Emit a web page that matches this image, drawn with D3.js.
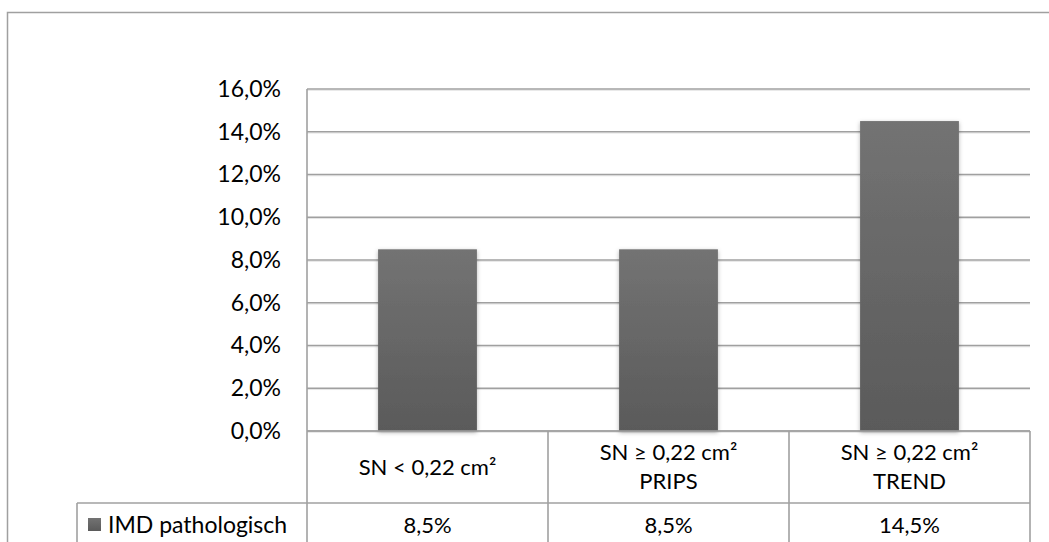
<!DOCTYPE html>
<html>
<head>
<meta charset="utf-8">
<script src="https://cdn.jsdelivr.net/npm/d3@7"></script>
<style>
  html, body { margin: 0; padding: 0; background: #fff; }
  svg { display: block; font-family: Lato, "Open Sans", sans-serif; }
</style>
</head>
<body>
<svg id="chart" width="1049" height="542"></svg>
<script>
// Share of pathological IMD per SN group
const categories = [["SN < 0,22 cm²"], ["SN ≥ 0,22 cm²", "PRIPS"], ["SN ≥ 0,22 cm²", "TREND"]];
const values = [8.5, 8.5, 14.5];
const valueLabels = ["8,5%", "8,5%", "14,5%"];
const yTicks = [0, 2, 4, 6, 8, 10, 12, 14, 16];
const seriesName = "IMD pathologisch";

const svg = d3.select("#chart");
const W = 1049, H = 542;
const plot = { left: 307, right: 1030, top: 89, bottom: 431 };
const tableRow = 503;
const legendLeft = 77;
const lineColor = "#a0a0a0";

const defs = svg.append("defs");
const grad = defs.append("linearGradient").attr("id", "barGrad")
  .attr("x1", 0).attr("y1", 0).attr("x2", 0).attr("y2", 1);
grad.append("stop").attr("offset", "0%").attr("stop-color", "#737373");
grad.append("stop").attr("offset", "100%").attr("stop-color", "#5a5a5a");

const shadow = defs.append("filter").attr("id", "barShadow")
  .attr("x", "-20%").attr("y", "-5%").attr("width", "140%").attr("height", "115%");
shadow.append("feDropShadow").attr("dx", 0).attr("dy", 1.5)
  .attr("stdDeviation", 2.2).attr("flood-color", "#000").attr("flood-opacity", 0.3);

// Outer chart frame
svg.append("path")
  .attr("d", `M${W + 2},12.5 H7.5 V${H + 2}`)
  .attr("fill", "none").attr("stroke", lineColor).attr("stroke-width", 1.5);

const x = d3.scaleBand()
  .domain(d3.range(categories.length))
  .range([plot.left, plot.right])
  .paddingInner(0.59).paddingOuter(0.295);

const xCol = d3.scaleBand()
  .domain(d3.range(categories.length))
  .range([plot.left, plot.right]);

const y = d3.scaleLinear().domain([0, 16]).range([plot.bottom, plot.top]);

// Gridlines with a faint line underneath as shadow
const grid = svg.append("g");
grid.selectAll("line.shade").data(yTicks).join("line").attr("class", "shade")
  .attr("x1", plot.left).attr("x2", plot.right)
  .attr("y1", d => y(d) + 1.3).attr("y2", d => y(d) + 1.3)
  .attr("stroke", "#e4e4e4").attr("stroke-width", 1);
grid.selectAll("line.main").data(yTicks).join("line").attr("class", "main")
  .attr("x1", plot.left).attr("x2", plot.right)
  .attr("y1", d => y(d)).attr("y2", d => y(d))
  .attr("stroke", lineColor).attr("stroke-width", 1.6);

// Y axis labels
const yAxis = d3.axisLeft(y).tickValues(yTicks).tickSize(0).tickPadding(26)
  .tickFormat(d => d3.format(".1f")(d).replace(".", ",") + "%");
const gy = svg.append("g").attr("transform", `translate(${plot.left},0)`).call(yAxis);
gy.select(".domain").remove();
gy.selectAll("text").attr("font-size", 23).attr("fill", "#000")
  .attr("font-family", "Lato, 'Open Sans', sans-serif");

// Bars
svg.append("g").selectAll("rect").data(values).join("rect")
  .attr("x", (d, i) => x(i)).attr("width", x.bandwidth())
  .attr("y", d => y(d)).attr("height", d => y(0) - y(d))
  .attr("fill", "url(#barGrad)").attr("filter", "url(#barShadow)");

// Baseline redrawn over bars
svg.append("line")
  .attr("x1", plot.left).attr("x2", plot.right)
  .attr("y1", y(0)).attr("y2", y(0))
  .attr("stroke", lineColor).attr("stroke-width", 1.6);

// Data table lines
const tl = svg.append("g").attr("stroke", lineColor).attr("stroke-width", 1.6).attr("fill", "none");
tl.append("line").attr("x1", plot.left).attr("x2", plot.left).attr("y1", plot.top).attr("y2", H + 2);
tl.append("line").attr("x1", legendLeft).attr("x2", plot.right).attr("y1", tableRow).attr("y2", tableRow);
tl.append("line").attr("x1", legendLeft).attr("x2", legendLeft).attr("y1", tableRow).attr("y2", H + 2);
tl.selectAll("line.col").data(d3.range(categories.length)).join("line").attr("class", "col")
  .attr("x1", i => xCol(i) + xCol.bandwidth()).attr("x2", i => xCol(i) + xCol.bandwidth())
  .attr("y1", y(0)).attr("y2", H + 2);

// Category labels
const catG = svg.append("g").attr("font-size", 22).attr("text-anchor", "middle").attr("fill", "#000");
categories.forEach((lines, i) => {
  const cx = xCol(i) + xCol.bandwidth() / 2;
  const mid = (y(0) + tableRow) / 2;
  const step = 29;
  lines.forEach((t, j) => {
    catG.append("text").attr("x", cx)
      .attr("y", mid + (j - (lines.length - 1) / 2) * step)
      .attr("dy", "0.36em").text(t);
  });
});

// Value row
const valG = svg.append("g").attr("font-size", 22).attr("text-anchor", "middle").attr("fill", "#000");
valG.selectAll("text").data(valueLabels).join("text")
  .attr("x", (d, i) => xCol(i) + xCol.bandwidth() / 2)
  .attr("y", 525).attr("dy", "0.36em").text(d => d);

// Legend key in table
svg.append("rect").attr("x", 88).attr("y", 518).attr("width", 13).attr("height", 13)
  .attr("fill", "url(#barGrad)");
svg.append("text").attr("x", 108).attr("y", 525).attr("dy", "0.36em")
  .attr("font-size", 23).attr("fill", "#000").text(seriesName);
</script>
</body>
</html>
